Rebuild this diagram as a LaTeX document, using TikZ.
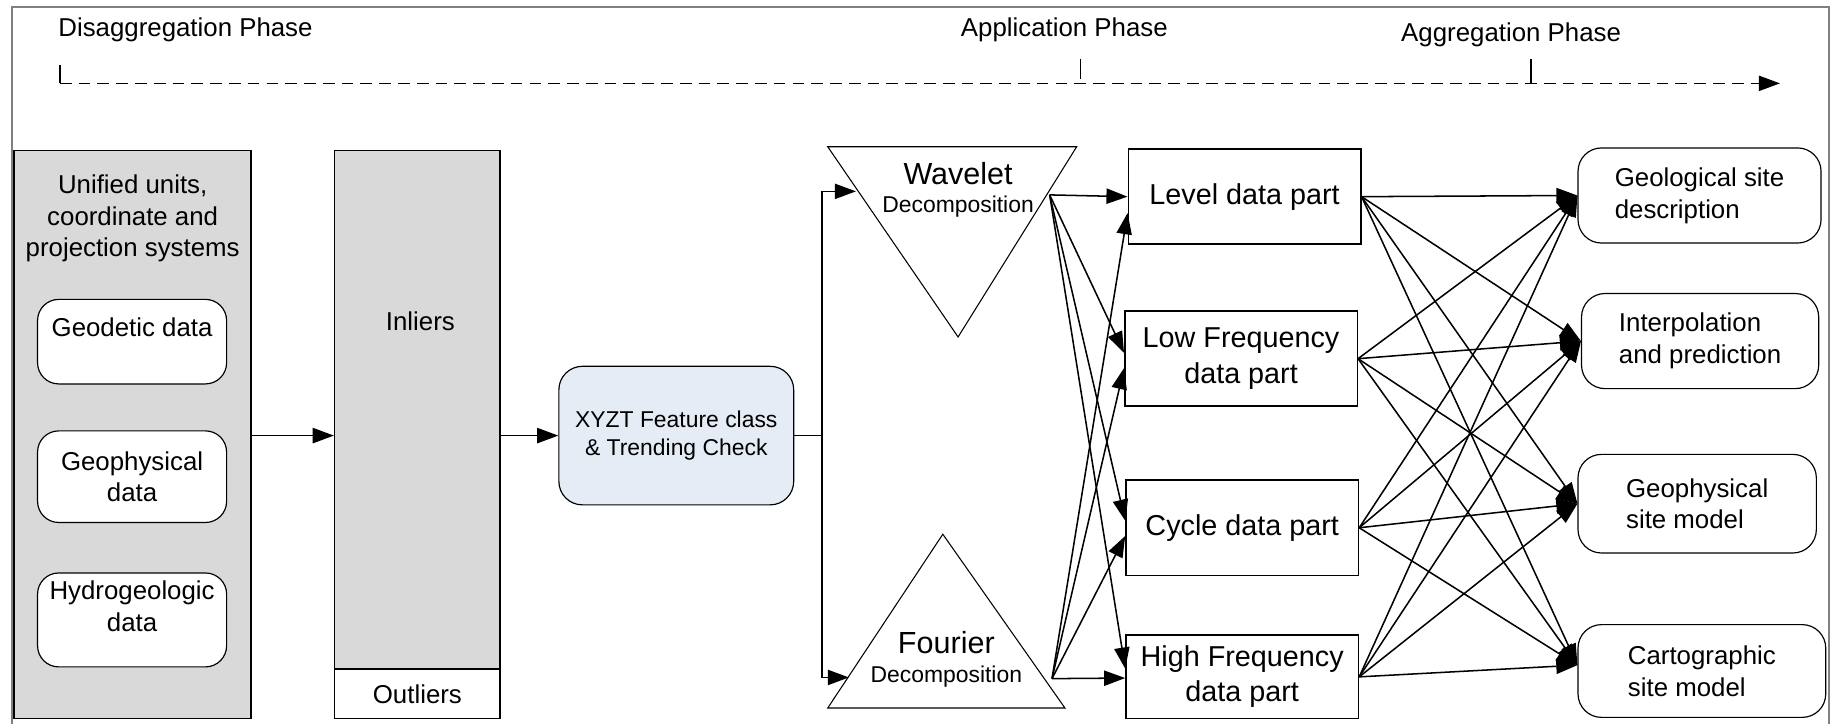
\documentclass[tikz,border=0pt]{standalone}
\usepackage{fontspec}
\setmainfont{Liberation Sans}
\usetikzlibrary{arrows.meta}
\definecolor{boxgray}{RGB}{217,217,217}
\definecolor{xyztblue}{RGB}{230,236,246}
\definecolor{framegray}{RGB}{128,128,128}
\newcommand\fsmain{\fontsize{22}{27}\selectfont}
\newcommand\fsmid{\fontsize{24.5}{30}\selectfont}
\newcommand\fsbig{\fontsize{26}{30}\selectfont}
\newcommand\fssmall{\fontsize{19.5}{24}\selectfont}
\begin{document}
\begin{tikzpicture}[x=1pt,y=-1pt,
  base/.style={draw=black, line width=1.3pt, inner sep=0pt},
  graybox/.style={base, fill=boxgray},
  rbox/.style={base, line width=1pt, rounded corners=18pt, fill=white, align=center, font=\fsmain},
  mbox/.style={base, fill=white, align=center, font=\fsmid},
  outbox/.style={base, line width=1pt, rounded corners=20pt, fill=white, align=left, font=\fsmain},
  txt/.style={inner sep=0pt, align=center, font=\fsmain},
  tri/.style={draw=black, line width=0.9pt, fill=white},
  conn/.style={line width=1.3pt},
  arr/.style={line width=1.3pt, -{Triangle[length=18pt,width=13pt]}},
]
\useasboundingbox (0,0) rectangle (1568,617);
% outer frame
\draw[framegray, line width=1.5pt] (10,617) -- (10,6) -- (1558,6) -- (1558,617);

% phase labels and timeline
\node[txt] (ph1) at (158,25) {Disaggregation Phase};
\node[txt] (ph2) at (906.5,25) {Application Phase};
\node[txt] (ph3) at (1287,30) {Aggregation Phase};
\coordinate (tl0) at (51,71);
\coordinate (tl1) at (1516,71);
\coordinate (tk1) at (51,55);
\coordinate (tk2a) at (920,50);
\coordinate (tk2b) at (920,67);
\coordinate (tk3a) at (1304,50);
\coordinate (tk3b) at (1304,71);
\draw[line width=1.3pt, dash pattern=on 10pt off 6pt, -{Triangle[length=18pt,width=13pt]}] (tl0) -- (tl1);
\draw[line width=1.1pt] (tk1) -- (tl0);
\draw[line width=1.1pt] (tk2a) -- (tk2b);
\draw[line width=1.1pt] (tk3a) -- (tk3b);

% left gray box
\node[graybox, minimum width=202pt, minimum height=484pt] (units) at (113,370) {};
\node[txt] (unitstitle) at (113,186) {Unified units,\\coordinate and\\projection systems};
\node[rbox, minimum width=161pt, minimum height=72pt] (geod) at (112.5,291) {};
\node[txt] (geodt) at (112.5,279) {Geodetic data};
\node[rbox, minimum width=161pt, minimum height=78pt] (geoph) at (112.5,406) {Geophysical\\data};
\node[rbox, minimum width=161pt, minimum height=80pt] (hydro) at (112.5,528) {};
\node[txt] (hydrot) at (112.5,516.5) {Hydrogeologic\\data};

% inliers / outliers
\node[graybox, minimum width=141pt, minimum height=442pt] (inl) at (355.5,349) {};
\node[txt] (inlt) at (358,274) {Inliers};
\node[base, fill=white, minimum width=141pt, minimum height=42pt, font=\fsmain] (outl) at (355.5,591) {Outliers};

% XYZT
\node[base, line width=1pt, rounded corners=20pt, fill=xyztblue, minimum width=200pt, minimum height=118pt, align=center, font=\fssmall] (xyzt) at (576,371) {XYZT Feature class\\\& Trending Check};

\draw[arr] (units.east |- xyzt.west) -- (inl.west |- xyzt.west);
\draw[arr] (inl.east |- xyzt.west) -- (xyzt.west);

% triangles
\coordinate (wtl) at (705,125);
\coordinate (wtr) at (917,125);
\coordinate (wap) at (816,287);
\draw[tri] (wtl) -- (wtr) -- (wap) -- cycle;
\node[inner sep=0pt, font=\fsbig] (wavt) at (816,148) {Wavelet};
\node[inner sep=0pt, font=\fssmall] (wavd) at (816,176) {Decomposition};
\coordinate (fap) at (803,455);
\coordinate (fbl) at (705,603);
\coordinate (fbr) at (907,603);
\draw[tri] (fap) -- (fbr) -- (fbl) -- cycle;
\node[inner sep=0pt, font=\fsbig] (fout) at (806,547) {Fourier};
\node[inner sep=0pt, font=\fssmall] (fourd) at (806,576) {Decomposition};

\coordinate (split) at (700,371);
\coordinate (win) at (729,163);
\coordinate (fin) at (723,577);
\draw[conn] (xyzt.east) -- (split);
\draw[arr] (split) |- (win);
\draw[arr] (split) |- (fin);

% middle boxes
\node[mbox, minimum width=198pt, minimum height=81pt] (lev) at (1060,167.5) {Level data part};
\node[mbox, minimum width=198pt, minimum height=81pt] (low) at (1057,305.5) {Low Frequency\\data part};
\node[mbox, minimum width=198pt, minimum height=81pt] (cyc) at (1058,449.5) {Cycle data part};
\node[mbox, minimum width=198pt, minimum height=71pt] (high) at (1058,576.5) {High Frequency\\data part};

\coordinate (wo) at (894,166);
\coordinate (fo) at (896,578);
\draw[arr] (wo) -- (lev.west);
\draw[arr] (wo) -- ([yshift=5pt]low.west);
\draw[arr] (wo) -- ([yshift=6pt]cyc.west);
\draw[arr] (wo) -- ([yshift=7pt]high.west);
\draw[arr] (fo) -- ([yshift=-14pt]lev.west);
\draw[arr] (fo) -- ([yshift=-8pt]low.west);
\draw[arr] (fo) -- ([yshift=-7pt]cyc.west);
\draw[arr] (fo) -- ([yshift=-1pt]high.west);

% right boxes
\node[outbox, minimum width=207pt, minimum height=81pt] (geol) at (1447.5,166.5) {Geological site\\description};
\node[outbox, minimum width=202pt, minimum height=81pt] (interp) at (1448,290.5) {Interpolation\\and prediction};
\node[outbox, minimum width=203pt, minimum height=84pt] (gphm) at (1445.5,429) {Geophysical\\site model};
\node[outbox, minimum width=211pt, minimum height=79pt] (carto) at (1449.5,571.5) {Cartographic\\site model};

\foreach \s in {lev,low,cyc,high}{
  \foreach \t in {geol,interp,gphm}{
    \draw[arr] (\s.east) -- (\t.west);
  }
  \draw[arr] (\s.east) -- ([yshift=5pt]carto.west);
}
\end{tikzpicture}
\end{document}
